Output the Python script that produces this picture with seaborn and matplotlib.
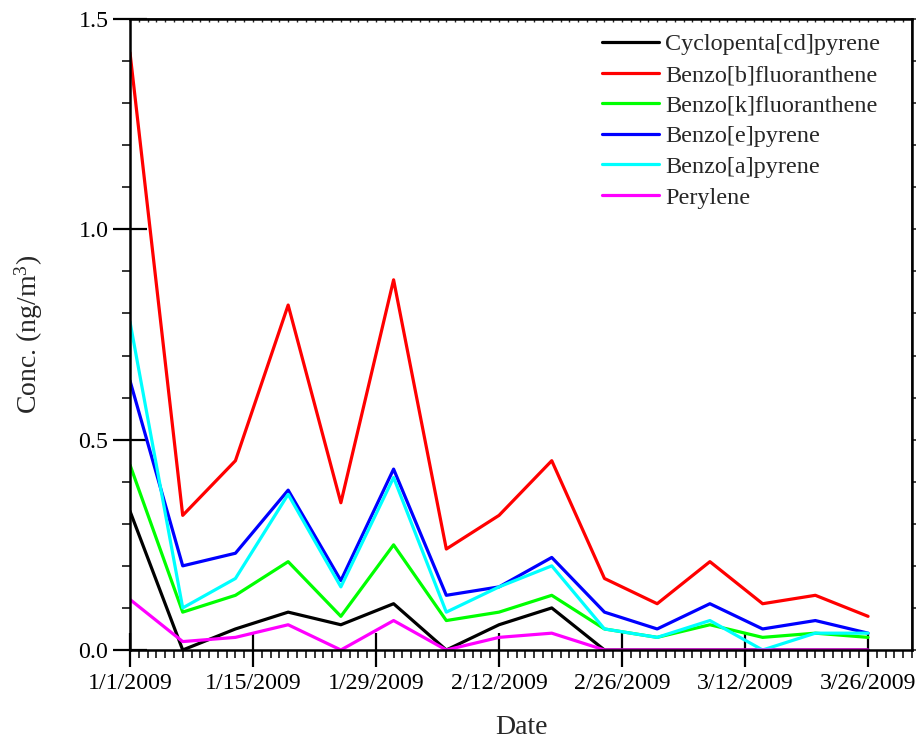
import matplotlib
matplotlib.use("Agg")
import matplotlib.pyplot as plt
import matplotlib.dates as mdates
import matplotlib.ticker as mticker
import numpy as np
import pandas as pd
import seaborn as sns

# Sampling dates (every 6 days) and concentrations in ng/m3
dates = pd.date_range("2009-01-01", "2009-03-26", freq="6D")
cyclopenta_cd_pyrene = [0.33, 0.00, 0.05, 0.09, 0.06, 0.11, 0.00, 0.06, 0.10, 0.00, 0.00, 0.00, 0.00, 0.00, 0.00]
benzo_b_fluoranthene = [1.42, 0.32, 0.45, 0.82, 0.35, 0.88, 0.24, 0.32, 0.45, 0.17, 0.11, 0.21, 0.11, 0.13, 0.08]
benzo_k_fluoranthene = [0.44, 0.09, 0.13, 0.21, 0.08, 0.25, 0.07, 0.09, 0.13, 0.05, 0.03, 0.06, 0.03, 0.04, 0.03]
benzo_e_pyrene = [0.64, 0.20, 0.23, 0.38, 0.165, 0.43, 0.13, 0.15, 0.22, 0.09, 0.05, 0.11, 0.05, 0.07, 0.04]
benzo_a_pyrene = [0.78, 0.10, 0.17, 0.37, 0.15, 0.41, 0.09, 0.15, 0.20, 0.05, 0.03, 0.07, 0.00, 0.04, 0.04]
perylene = [0.12, 0.02, 0.03, 0.06, 0.00, 0.07, 0.00, 0.03, 0.04, 0.00, 0.00, 0.00, 0.00, 0.00, 0.00]

compounds = ["Cyclopenta[cd]pyrene", "Benzo[b]fluoranthene", "Benzo[k]fluoranthene",
             "Benzo[e]pyrene", "Benzo[a]pyrene", "Perylene"]
series = [cyclopenta_cd_pyrene, benzo_b_fluoranthene, benzo_k_fluoranthene,
          benzo_e_pyrene, benzo_a_pyrene, perylene]
colors = ["#000000", "#ff0000", "#00ff00", "#0000ff", "#00ffff", "#ff00ff"]

tick_dates = pd.date_range("2009-01-01", "2009-03-26", freq="14D")
y_ticks = [0.0, 0.5, 1.0, 1.5]

df = pd.DataFrame({
    "Date": np.tile(dates, len(compounds)),
    "Conc": np.concatenate(series),
    "Compound": np.repeat(compounds, len(dates)),
})

sns.set_theme(style="ticks")
plt.rcParams["font.family"] = ["Liberation Serif", "DejaVu Serif"]
plt.rcParams["mathtext.fontset"] = "custom"
plt.rcParams["mathtext.rm"] = "Liberation Serif"

fig = plt.figure(figsize=(9.2, 7.42), dpi=100)
ax = fig.add_axes([0.1413, 0.124, 0.85, 0.8504])

sns.lineplot(data=df, x="Date", y="Conc", hue="Compound", hue_order=compounds,
             palette=colors, estimator=None, linewidth=2.3, ax=ax, legend=True)

ax.set_xlim(pd.Timestamp("2009-01-01"), pd.Timestamp("2009-03-31"))
ax.set_ylim(0, 1.5)

ax.set_xticks(tick_dates)
ax.set_xticklabels([f"{d.month}/{d.day}/{d.year}" for d in tick_dates])
ax.xaxis.set_minor_locator(mdates.DayLocator())
ax.set_yticks(y_ticks)
ax.set_yticklabels([f"{v:.1f}" for v in y_ticks])
ax.yaxis.set_minor_locator(mticker.MultipleLocator(0.1))

ax.tick_params(which="major", direction="inout", length=25, width=1.6,
               labelsize=17.2, colors="black")
ax.tick_params(which="minor", direction="out", length=5.5, width=1.3)
ax.tick_params(axis="x", which="major", pad=4)
ax.tick_params(axis="y", which="major", pad=3)

for side in ["left", "bottom", "top", "right"]:
    ax.spines[side].set_visible(True)
    ax.spines[side].set_linewidth(1.8)
    ax.spines[side].set_color("black")

# small ticks along the top and right frame
top = ax.secondary_xaxis("top")
top.set_xticks([])
top.xaxis.set_minor_locator(mdates.DayLocator())
top.tick_params(which="minor", direction="in", length=2.5, width=1.0)
top.tick_params(which="major", length=0)
top.xaxis.set_major_formatter(mticker.NullFormatter())
right = ax.secondary_yaxis("right")
right.set_yticks([])
right.yaxis.set_minor_locator(mticker.MultipleLocator(0.1))
right.tick_params(which="minor", direction="out", length=3, width=1.2)
right.yaxis.set_major_formatter(mticker.NullFormatter())

ax.set_xlabel("Date", fontsize=20, labelpad=15)
ax.set_ylabel(r"Conc. (ng/m$\mathregular{^3}$)", fontsize=20, labelpad=24)

handles, labels = ax.get_legend_handles_labels()
ax.legend(handles, labels, loc="upper left", bbox_to_anchor=(0.6036, 0.977),
          frameon=False, fontsize=17.4, handlelength=2.35, handletextpad=0.25,
          labelspacing=0.36, borderpad=0, borderaxespad=0)

fig.savefig("out.png", dpi=100)
